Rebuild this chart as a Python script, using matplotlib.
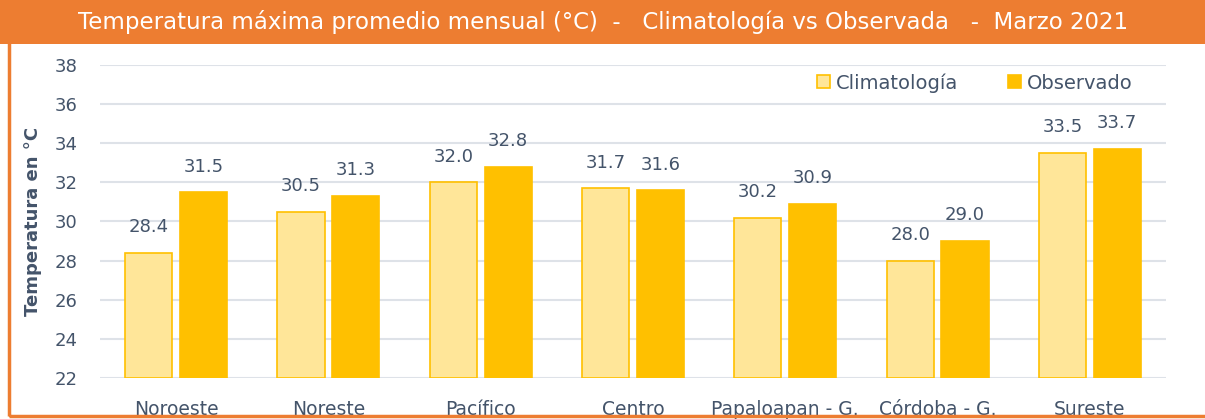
import matplotlib.pyplot as plt
import numpy as np
from matplotlib.patches import Rectangle

plt.rcParams["font.family"] = ["DejaVu Sans"]

# datos
regiones = ["Noroeste", "Noreste", "Pacífico", "Centro",
            "Papaloapan - G.", "Córdoba - G.", "Sureste"]
climatologia = [28.4, 30.5, 32.0, 31.7, 30.2, 28.0, 33.5]
observado = [31.5, 31.3, 32.8, 31.6, 30.9, 29.0, 33.7]

txt = "#44546A"
c_clim = "#FFE699"
c_obs = "#FFC000"
naranja = "#ED7D31"

fig = plt.figure(figsize=(12.05, 4.19), dpi=100)
W, H = 1205, 419

# marco y encabezado
fig.patches.append(Rectangle((9 / W, 1 - 416 / H), 1.2, (416 - 40) / H,
                             transform=fig.transFigure, fill=False,
                             edgecolor=naranja, linewidth=2.5, zorder=0))
fig.patches.append(Rectangle((0, 1 - 44 / H), 1, 44 / H,
                             transform=fig.transFigure, facecolor=naranja,
                             edgecolor="none", zorder=1))
fig.text(603 / W, 1 - 22 / H,
         "Temperatura máxima promedio mensual (°C)  -   Climatología vs Observada   -  Marzo 2021",
         color="white", fontsize=16.5, ha="center", va="center")

ax = fig.add_axes([100 / W, 1 - 378 / H, (1166 - 100) / W, (378 - 65) / H])
x = np.arange(len(regiones))
w = 0.31
ax.bar(x - 0.18, np.array(climatologia) - 22, w, bottom=22, color=c_clim,
       edgecolor=c_obs, linewidth=1.2, label="Climatología", zorder=3)
ax.bar(x + 0.18, np.array(observado) - 22, w, bottom=22, color=c_obs,
       edgecolor=c_obs, linewidth=1.2, label="Observado", zorder=3)

for xi, v in zip(x, climatologia):
    ax.text(xi - 0.18, v + 0.85, f"{v:.1f}", ha="center", va="bottom",
            fontsize=13, color=txt)
for xi, v in zip(x, observado):
    ax.text(xi + 0.18, v + 0.85, f"{v:.1f}", ha="center", va="bottom",
            fontsize=13, color=txt)

ax.set_xlim(-0.5, len(regiones) - 0.5)
ax.set_ylim(22, 38)
ax.set_yticks(range(22, 39, 2))
ax.grid(axis="y", color="#DEE2E8", linewidth=1.5, zorder=0)
ax.tick_params(axis="y", length=0, labelsize=13, labelcolor=txt, pad=16)
ax.tick_params(axis="x", length=0, labelsize=13.5, labelcolor=txt, pad=16)
ax.set_xticks(x)
ax.set_xticklabels(regiones)
for s in ax.spines.values():
    s.set_visible(False)

ax.set_ylabel("Temperatura en °C", fontsize=13, fontweight="bold",
              color=txt, labelpad=9)

ax.legend(loc="upper right", bbox_to_anchor=(0.985, 1.03), ncol=2, frameon=False,
          fontsize=14, labelcolor=txt, handlelength=0.65, handleheight=0.65,
          handletextpad=0.3, columnspacing=2.6)

fig.savefig("out.png", dpi=100)
